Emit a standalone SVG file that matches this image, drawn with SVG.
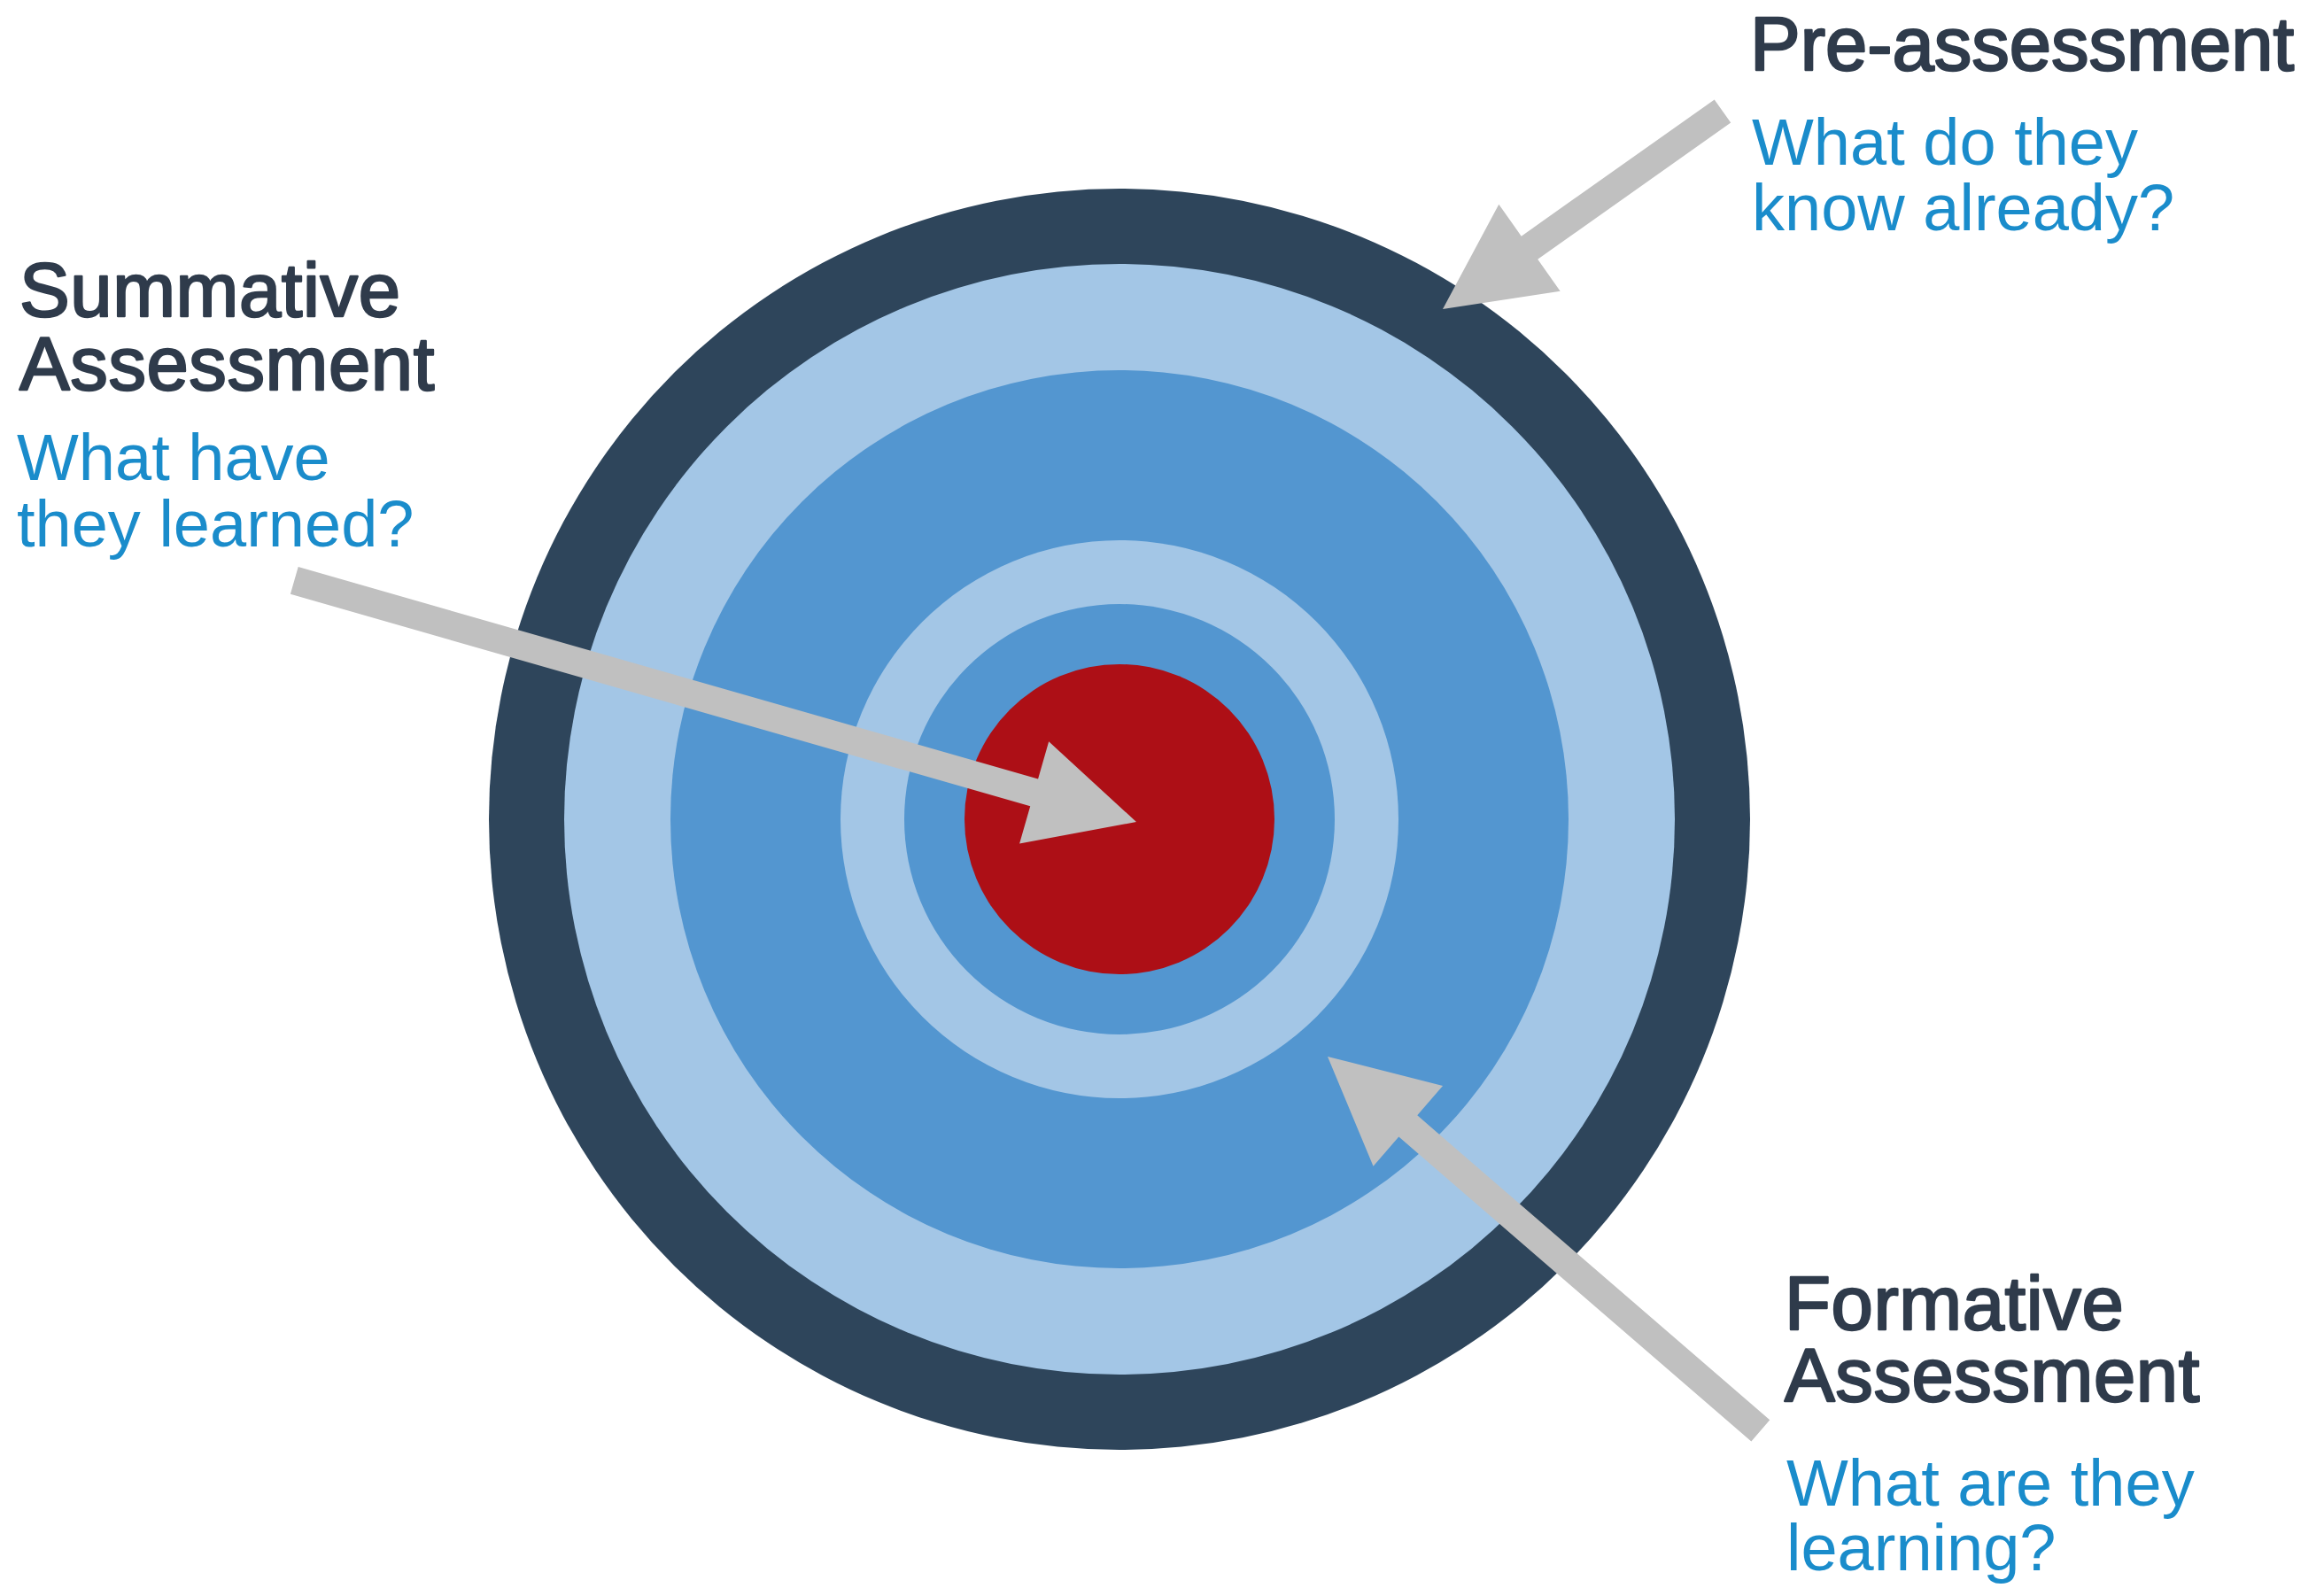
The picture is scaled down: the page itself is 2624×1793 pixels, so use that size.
<svg xmlns="http://www.w3.org/2000/svg" xmlns:xlink="http://www.w3.org/1999/xlink" width="2624" height="1793" viewBox="0 0 2624 1793">
  <style>
    .title { font-family: "Liberation Sans", Arial, Helvetica, sans-serif; font-size: 85px; letter-spacing: 0.6px; fill: #2F3B4B; stroke: #2F3B4B; stroke-width: 2.4px; stroke-linejoin: round; }
    .title.tight { letter-spacing: 0; }
    .question { font-family: "Liberation Sans", Arial, Helvetica, sans-serif; font-size: 74px; fill: #1A8CCB; }
    .pointer { fill: #C0C0C0; }
  </style>
  <defs>
    <!-- arrow pointing along +x with its tip at the origin; tail length varies per arrow -->
    <polygon id="arrow-long" points="-989,-16 -120,-16 -120,-60 0,0 -120,60 -120,16 -989,16"/>
    <polygon id="arrow-mid" points="-646,-16 -120,-16 -120,-60 0,0 -120,60 -120,16 -646,16"/>
    <polygon id="arrow-short" points="-387,-16 -120,-16 -120,-60 0,0 -120,60 -120,16 -387,16"/>
  </defs>

  <rect width="2624" height="1793" fill="#FFFFFF"/>

  <!-- target rings -->
  <g id="target">
    <circle cx="1264" cy="925" r="712" fill="#2E455B"/>
    <circle cx="1264" cy="925" r="627" fill="#A3C6E6"/>
    <circle cx="1264" cy="925" r="507" fill="#5396D0"/>
    <circle cx="1264" cy="925" r="315" fill="#A3C6E6"/>
    <circle cx="1264" cy="925" r="243" fill="#5396D0"/>
    <circle cx="1264" cy="925" r="175" fill="#AD0F16"/>
  </g>

  <!-- connectors -->
  <g id="connectors" class="pointer">
    <use xlink:href="#arrow-long" transform="translate(1283,928) rotate(16)"/>
    <use xlink:href="#arrow-short" transform="translate(1629,349) rotate(144.73)"/>
    <use xlink:href="#arrow-mid" transform="translate(1499,1193) rotate(-139.17)"/>
  </g>

  <g id="summative">
    <text class="title" x="22" y="357">Summative</text>
    <text class="title" x="22" y="440">Assessment</text>
    <text class="question" x="19" y="542">What have</text>
    <text class="question" x="19" y="617">they learned?</text>
  </g>

  <g id="pre-assessment">
    <text class="title tight" x="1976" y="79">Pre-assessment</text>
    <text class="question" x="1978" y="186">What do they</text>
    <text class="question" x="1978" y="260">know already?</text>
  </g>

  <g id="formative">
    <text class="title" x="2015" y="1501">Formative</text>
    <text class="title" x="2015" y="1582">Assessment</text>
    <text class="question" x="2017" y="1700">What are they</text>
    <text class="question" x="2017" y="1773">learning?</text>
  </g>
</svg>
